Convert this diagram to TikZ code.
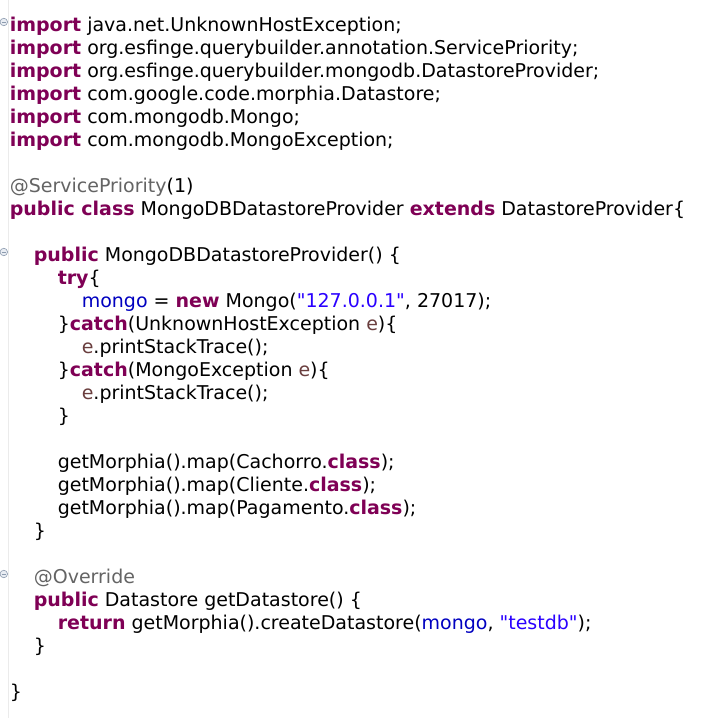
\documentclass[tikz,border=0pt]{standalone}
\usepackage{fontspec}
\setmainfont{DejaVu Sans}[Ligatures=TeXOff]
\usepackage{xcolor}
\definecolor{kwc}{RGB}{127,0,85}
\definecolor{strc}{RGB}{42,0,255}
\definecolor{annc}{RGB}{100,100,100}
\definecolor{fldc}{RGB}{0,0,192}
\definecolor{varc}{RGB}{106,62,62}
\definecolor{foldc}{RGB}{200,210,225}
\definecolor{folde}{RGB}{140,155,175}
\newcommand\KW[1]{\textcolor{kwc}{\bfseries #1}}
\newcommand\STR[1]{\textcolor{strc}{#1}}
\newcommand\ANN[1]{\textcolor{annc}{#1}}
\newcommand\FLD[1]{\textcolor{fldc}{#1}}
\newcommand\VAR[1]{\textcolor{varc}{#1}}
\newcommand\codeln[3]{\node[codetext] (l#2) at ({9.6+24.0*#1}, {-(31+23*#2)}) {#3};}
\newcommand\foldmark[2]{%
  \node[foldmarker] (#1) at (3.8,{-(22+23*#2)}) {};
  \draw[folde, line width=0.8pt] ([xshift=-2pt]#1.center) -- ([xshift=2pt]#1.center);}
\tikzset{
  x=1pt, y=1pt,
  codetext/.style={anchor=base west, inner sep=0pt, font=\fontsize{19.0}{22}\selectfont, text=black},
  foldmarker/.style={circle, draw=folde, fill=foldc!40, line width=0.6pt, minimum size=7.5pt, inner sep=0pt},
}
\begin{document}
\begin{tikzpicture}
\fill[white] (0,0) rectangle (708,-718);
\useasboundingbox (0,0) rectangle (708,-718);
\draw[black!8, line width=0.8pt] (7.9,0) -- (7.9,-718);
\foldmark{f0}{0}
\foldmark{f1}{10}
\foldmark{f2}{24}
\codeln{0}{0}{\KW{import} java.net.UnknownHostException;}
\codeln{0}{1}{\KW{import} org.esfinge.querybuilder.annotation.ServicePriority;}
\codeln{0}{2}{\KW{import} org.esfinge.querybuilder.mongodb.DatastoreProvider;}
\codeln{0}{3}{\KW{import} com.google.code.morphia.Datastore;}
\codeln{0}{4}{\KW{import} com.mongodb.Mongo;}
\codeln{0}{5}{\KW{import} com.mongodb.MongoException;}
\codeln{0}{7}{\ANN{@ServicePriority}(1)}
\codeln{0}{8}{\KW{public class} MongoDBDatastoreProvider \KW{extends} DatastoreProvider\{}
\codeln{1}{10}{\KW{public} MongoDBDatastoreProvider() \{}
\codeln{2}{11}{\KW{try}\{}
\codeln{3}{12}{\FLD{mongo} = \KW{new} Mongo(\STR{"127.0.0.1"}, 27017);}
\codeln{2}{13}{\}\KW{catch}(UnknownHostException \VAR{e})\{}
\codeln{3}{14}{\VAR{e}.printStackTrace();}
\codeln{2}{15}{\}\KW{catch}(MongoException \VAR{e})\{}
\codeln{3}{16}{\VAR{e}.printStackTrace();}
\codeln{2}{17}{\}}
\codeln{2}{19}{getMorphia().map(Cachorro.\KW{class});}
\codeln{2}{20}{getMorphia().map(Cliente.\KW{class});}
\codeln{2}{21}{getMorphia().map(Pagamento.\KW{class});}
\codeln{1}{22}{\}}
\codeln{1}{24}{\ANN{@Override}}
\codeln{1}{25}{\KW{public} Datastore getDatastore() \{}
\codeln{2}{26}{\KW{return} getMorphia().createDatastore(\FLD{mongo}, \STR{"testdb"});}
\codeln{1}{27}{\}}
\codeln{0}{29}{\}}
\end{tikzpicture}
\end{document}
